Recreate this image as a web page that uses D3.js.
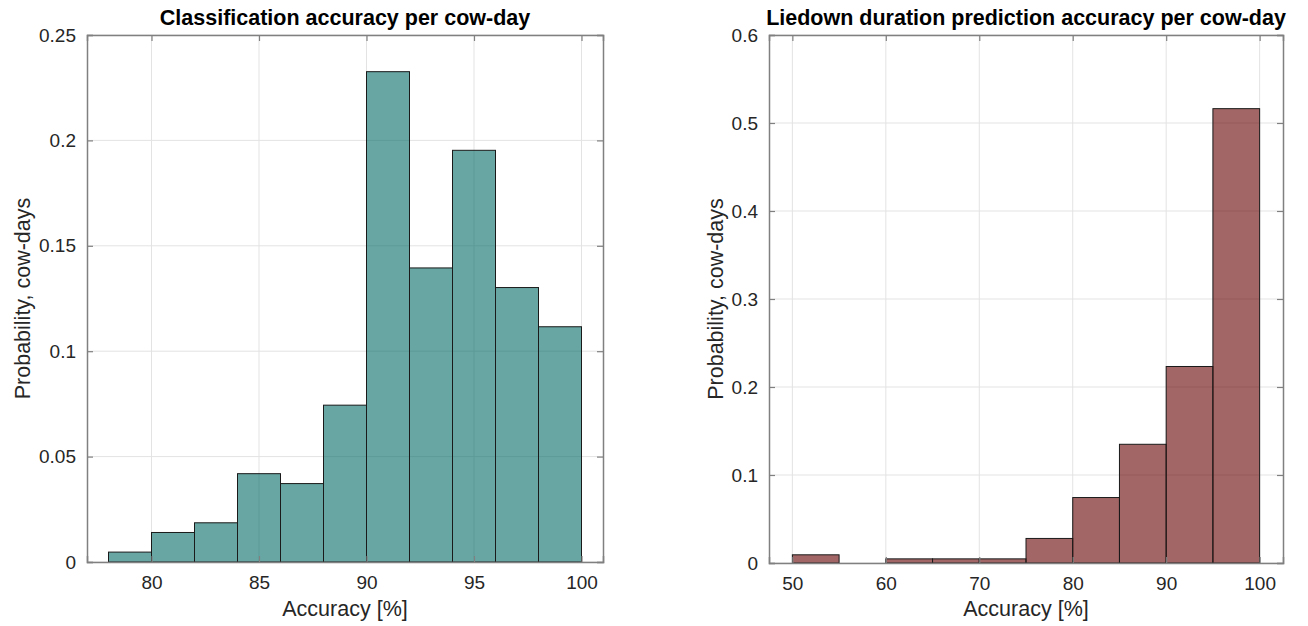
<!DOCTYPE html>
<html>
<head>
<meta charset="utf-8">
<script src="https://cdn.jsdelivr.net/npm/d3@7"></script>
<style>
  body { margin: 0; background: #fff; }
  svg text { font-family: "Liberation Sans", Arial, sans-serif; }
</style>
</head>
<body>
<svg id="chart" width="1308" height="626"></svg>
<script>
// left histogram: classification accuracy (bin edges 78..100 step 2)
const classEdges = [78, 80, 82, 84, 86, 88, 90, 92, 94, 96, 98, 100];
const classProb = [0.0047, 0.0140, 0.0186, 0.0419, 0.0372, 0.0744, 0.2326, 0.1395, 0.1953, 0.1302, 0.1116];
const classXTicks = [80, 85, 90, 95, 100];
const classYTicks = [0, 0.05, 0.1, 0.15, 0.2, 0.25];

// right histogram: liedown duration accuracy (bin edges 50..100 step 5)
const lieEdges = [50, 55, 60, 65, 70, 75, 80, 85, 90, 95, 100];
const lieProb = [0.0093, 0, 0.0047, 0.0047, 0.0047, 0.0279, 0.0744, 0.1349, 0.2233, 0.5163];
const lieXTicks = [50, 60, 70, 80, 90, 100];
const lieYTicks = [0, 0.1, 0.2, 0.3, 0.4, 0.5, 0.6];

const svg = d3.select("#chart");

function histogram(opts) {
  const { left, right, top, bottom, xDomain, yDomain, edges, probs, xTicks, yTicks, color, title } = opts;
  const x = d3.scaleLinear().domain(xDomain).range([left, right]);
  const y = d3.scaleLinear().domain(yDomain).range([bottom, top]);
  const g = svg.append("g");

  // grid
  g.selectAll(".gx").data(xTicks).enter().append("line")
    .attr("x1", d => x(d)).attr("x2", d => x(d))
    .attr("y1", top).attr("y2", bottom)
    .attr("stroke", "#e3e3e3").attr("stroke-width", 1);
  g.selectAll(".gy").data(yTicks).enter().append("line")
    .attr("x1", left).attr("x2", right)
    .attr("y1", d => y(d)).attr("y2", d => y(d))
    .attr("stroke", "#e3e3e3").attr("stroke-width", 1);

  // bars
  const bins = probs.map((p, i) => ({ x0: edges[i], x1: edges[i + 1], p }));
  g.selectAll(".bar").data(bins).enter().append("rect")
    .attr("x", d => x(d.x0))
    .attr("y", d => y(d.p))
    .attr("width", d => x(d.x1) - x(d.x0))
    .attr("height", d => y(0) - y(d.p))
    .attr("fill", color)
    .attr("fill-opacity", 0.6)
    .attr("stroke", "#1a1a1a")
    .attr("stroke-width", 1);

  // axes box with inward ticks
  const axCol = "#808080";
  const tl = 6;
  g.append("g").attr("transform", `translate(0,${bottom})`)
    .call(d3.axisBottom(x).tickValues(xTicks).tickSize(-tl).tickPadding(14).tickFormat(d3.format("d")));
  g.append("g").attr("transform", `translate(0,${top})`)
    .call(d3.axisTop(x).tickValues(xTicks).tickSize(-tl).tickFormat(""));
  g.append("g").attr("transform", `translate(${left},0)`)
    .call(d3.axisLeft(y).tickValues(yTicks).tickSize(-tl).tickPadding(11).tickFormat(d => d === 0 ? "0" : String(+d.toFixed(2))));
  g.append("g").attr("transform", `translate(${right},0)`)
    .call(d3.axisRight(y).tickValues(yTicks).tickSize(-tl).tickFormat(""));

  g.selectAll(".domain").attr("stroke", axCol).attr("stroke-width", 1.5);
  g.selectAll(".tick line").attr("stroke", axCol).attr("stroke-width", 1.2);
  g.selectAll(".tick text").attr("fill", "#262626").style("font-size", "19px");

  // title and labels
  g.append("text")
    .attr("x", (left + right) / 2).attr("y", 25)
    .attr("text-anchor", "middle")
    .style("font-size", "21.5px").style("font-weight", "bold")
    .attr("fill", "#000")
    .text(title);
  g.append("text")
    .attr("x", (left + right) / 2).attr("y", 616)
    .attr("text-anchor", "middle")
    .style("font-size", "21.5px").attr("fill", "#262626")
    .text("Accuracy [%]");
  g.append("text")
    .attr("transform", `translate(${opts.ylabX},${(top + bottom) / 2}) rotate(-90)`)
    .attr("text-anchor", "middle")
    .style("font-size", "21.5px").attr("fill", "#262626")
    .text("Probability, cow-days");
}

histogram({
  left: 87, right: 603, top: 35, bottom: 562,
  xDomain: [77, 101], yDomain: [0, 0.25],
  edges: classEdges, probs: classProb,
  xTicks: classXTicks, yTicks: classYTicks,
  color: "rgb(2,107,102)",
  title: "Classification accuracy per cow-day",
  ylabX: 30
});

histogram({
  left: 769, right: 1283, top: 35, bottom: 563,
  xDomain: [47.5, 102.5], yDomain: [0, 0.6],
  edges: lieEdges, probs: lieProb,
  xTicks: lieXTicks, yTicks: lieYTicks,
  color: "rgb(102,0,0)",
  title: "Liedown duration prediction accuracy per cow-day",
  ylabX: 723
});
</script>
</body>
</html>
